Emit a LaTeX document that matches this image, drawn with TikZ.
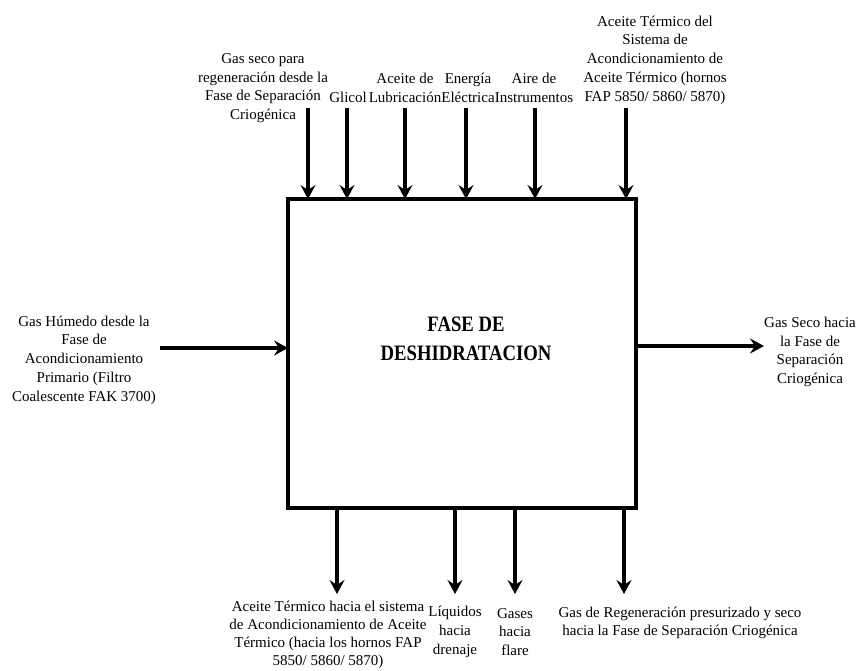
\documentclass[tikz,border=0pt]{standalone}
\usepackage{fontspec}
\setmainfont{Liberation Serif}
\newfontfamily\titlefont{Liberation Serif}[FakeStretch=0.85]
\usetikzlibrary{arrows.meta}
\begin{document}
\begin{tikzpicture}[x=1pt,y=-1pt,
  lbl/.style={align=center,inner sep=0pt,font=\fontsize{15}{18.7}\selectfont},
  flow/.style={line width=3.2pt,-{Stealth[length=14pt,width=15pt,inset=5pt]}},
  phase/.style={draw,line width=3.2pt,minimum width=348pt,minimum height=309pt,
    inner sep=0pt,outer sep=0pt}]
\useasboundingbox (0,0) rectangle (862,670);

% central process block
\node[phase] (fase) at (462,353.5) {};
\node[align=center,inner sep=0pt,font=\titlefont\bfseries\fontsize{22}{29}\selectfont]
  (titulo) at (466,339) {FASE DE\\DESHIDRATACION};

% inputs from above
\node[lbl] (gasseco) at (263,88) {Gas seco para\\regeneración desde la\\Fase de Separación\\Criogénica};
\node[lbl] (glicol) at (348,97) {Glicol};
\node[lbl] (aceite) at (405,88) {Aceite de\\Lubricación};
\node[lbl] (energia) at (468,88) {Energía\\Eléctrica};
\node[lbl] (aire) at (534,88) {Aire de\\Instrumentos};
\node[lbl] (termico) at (655,60) {Aceite Térmico del\\Sistema de\\Acondicionamiento de\\Aceite Térmico (hornos\\FAP 5850/ 5860/ 5870)};

\coordinate (t1) at (308,108);
\coordinate (t2) at (347,108);
\coordinate (t3) at (405,108);
\coordinate (t4) at (466,108);
\coordinate (t5) at (535,108);
\coordinate (t6) at (626,108);
\foreach \c in {t1,t2,t3,t4,t5,t6}
  \draw[flow] (\c) -- (\c |- fase.north);

% side streams
\node[lbl] (humedo) at (84,360) {Gas Húmedo desde la\\Fase de\\Acondicionamiento\\Primario (Filtro\\Coalescente FAK 3700)};
\coordinate (l1) at (160,348);
\draw[flow] (l1) -- (l1 -| fase.west);

\node[lbl] (salida) at (810,352) {Gas Seco hacia\\la Fase de\\Separación\\Criogénica};
\coordinate (r1) at (764,346);
\draw[flow] (r1 -| fase.east) -- (r1);

% outputs below
\coordinate (b1) at (337,594);
\coordinate (b2) at (455,594);
\coordinate (b3) at (515,594);
\coordinate (b4) at (624,594);
\foreach \c in {b1,b2,b3,b4}
  \draw[flow] (\c |- fase.south) -- (\c);

\node[lbl,font=\fontsize{15}{18}\selectfont] (retorno) at (328,635) {Aceite Térmico hacia el sistema\\de Acondicionamiento de Aceite\\Térmico (hacia los hornos FAP\\5850/ 5860/ 5870)};
\node[lbl] (liquidos) at (455,632) {Líquidos\\hacia\\drenaje};
\node[lbl] (gases) at (515,632) {Gases\\hacia\\flare};
\node[lbl] (regen) at (680,623) {Gas de Regeneración presurizado y seco\\hacia la Fase de Separación Criogénica};
\end{tikzpicture}
\end{document}
